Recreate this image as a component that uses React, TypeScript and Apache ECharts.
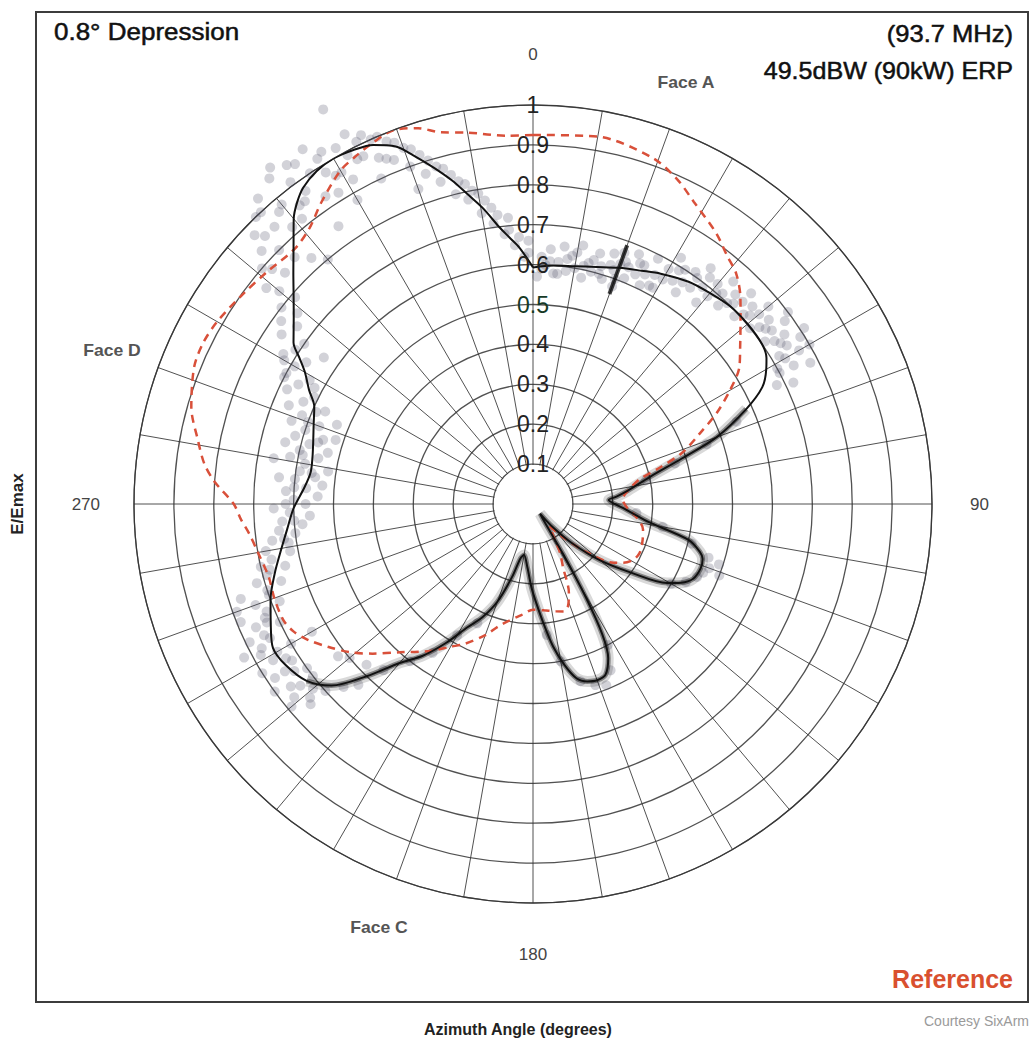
import React, { useEffect, useRef } from "react";
import * as echarts from "echarts";

// [azimuth (deg), E/Emax]
const measured: [number, number][] = [
  [0, 0.593], [5, 0.6], [10, 0.605], [15, 0.615], [20, 0.63], [25, 0.645], [29, 0.66], [35, 0.68],
  [40, 0.69], [45, 0.7], [50, 0.702], [55, 0.7], [58, 0.69], [60, 0.675], [63, 0.645], [66, 0.585],
  [70, 0.49], [73, 0.39], [77, 0.3], [82, 0.24], [85, 0.21], [87, 0.19], [90, 0.205], [93, 0.23],
  [99, 0.296], [103, 0.4], [106, 0.435], [108, 0.447], [111, 0.45], [115, 0.443], [118, 0.42],
  [120.5, 0.39], [125, 0.3], [130, 0.22], [135, 0.14], [140, 0.07], [144, 0.03], [147, 0.05],
  [149, 0.15], [150.5, 0.27], [152, 0.37], [154, 0.43], [157, 0.465], [160, 0.47], [163, 0.465],
  [166, 0.45], [169, 0.41], [172, 0.36], [175, 0.3], [178, 0.25], [181, 0.21], [185, 0.16],
  [190, 0.13], [193, 0.14], [196, 0.19], [200, 0.26], [204, 0.31], [208, 0.35], [212, 0.41],
  [216, 0.47], [220, 0.52], [224, 0.6], [228, 0.68], [232, 0.72], [237, 0.74], [241, 0.745],
  [245, 0.725], [250, 0.7], [255, 0.67], [260, 0.64], [264, 0.62], [269, 0.6], [274, 0.575],
  [278, 0.563], [282, 0.565], [286, 0.573], [290, 0.585], [294, 0.6], [297, 0.63], [300, 0.66],
  [302, 0.69], [304, 0.724], [308, 0.761], [311, 0.795], [314, 0.835], [317, 0.88], [320, 0.933],
  [322, 0.96], [324, 0.98], [327, 0.995], [330, 1.0], [333, 0.995], [336, 0.985], [339, 0.96],
  [341, 0.925], [343.5, 0.88], [346, 0.835], [348, 0.795], [350.5, 0.75], [353, 0.7], [355, 0.67],
  [357, 0.643], [360, 0.593],
];

const reference: [number, number][] = [
  [0, 0.925], [10, 0.935], [19, 0.918], [24, 0.89], [28, 0.858], [34, 0.82], [38, 0.79],
  [41.4, 0.77], [45, 0.735], [48, 0.7], [53, 0.65], [56.5, 0.62], [60, 0.57], [63.7, 0.513],
  [67, 0.455], [71, 0.396], [74, 0.33], [77, 0.274], [82, 0.24], [87, 0.225], [92, 0.235],
  [97, 0.26], [103, 0.283], [109, 0.29], [114.6, 0.294], [119, 0.288], [123, 0.27], [126, 0.25],
  [132, 0.18], [138, 0.11], [143, 0.07], [147, 0.09], [151, 0.14], [154.5, 0.174], [158, 0.24],
  [161, 0.27], [164, 0.28], [168, 0.275], [174, 0.268], [180, 0.265], [186, 0.28], [192, 0.3],
  [196, 0.32], [200, 0.35], [206, 0.39], [210, 0.413], [215, 0.45], [222, 0.5], [227, 0.55],
  [231, 0.59], [235, 0.625], [239, 0.66], [242, 0.68], [245, 0.69], [250, 0.69], [254.5, 0.687],
  [260, 0.7], [264, 0.715], [267, 0.733], [270, 0.75], [274, 0.8], [277, 0.83], [280.8, 0.855],
  [285.8, 0.89], [292, 0.916], [296, 0.92], [300, 0.914], [306, 0.897], [311, 0.885], [317, 0.875],
  [321, 0.89], [325, 0.924], [330, 0.965], [333.4, 0.98], [336, 0.99], [339.5, 1.0], [343, 0.985],
  [346, 0.96], [350, 0.945], [356, 0.925], [360, 0.925],
];

const spike: [number, number][] = [[20, 0.56], [20, 0.69]];

const samples: [number, number][] = [
  // top-left
  [312, 0.88], [313, 0.93], [314, 0.97], [315, 0.9], [316, 1.0], [317, 0.95], [318, 1.03], [319, 0.92],
  [320, 0.98], [321, 1.05], [322, 1.07], [322, 0.95], [323, 1.01], [324, 0.97], [325, 1.04], [326, 1.0],
  [327, 1.06], [328, 0.98], [329, 1.03], [330, 0.96], [331, 1.02], [332, 1.12], [332, 0.99], [333, 1.04],
  [334, 0.97], [335, 1.02], [336, 0.95], [337, 1.0], [338, 0.93], [339, 0.97], [340, 0.9], [341, 0.94],
  [342, 0.87], [343, 0.9], [344, 0.84], [345, 0.87], [346, 0.8], [347, 0.83], [348, 0.78], [349, 0.8],
  [350, 0.74], [351, 0.77], [352, 0.71], [354, 0.68], [355, 0.72], [356, 0.65], [358, 0.62], [359, 0.66],
  [325, 0.85], [330, 0.88], [335, 0.9], [320, 0.8], [318, 0.83], [328, 0.92], [340, 0.84], [316, 0.86],
  [309, 0.86], [311, 0.9], [313, 0.85], [315, 0.95], [317, 1.0], [319, 0.97], [321, 0.92], [323, 0.95],
  [324, 1.05], [326, 0.93], [328, 1.02], [329, 0.96], [331, 0.93], [333, 0.97], [334, 1.01], [336, 1.0],
  [337, 0.94], [338, 0.98], [340, 0.95], [342, 0.92], [344, 0.88], [346, 0.85], [348, 0.82], [350, 0.79],
  [352, 0.75], [353, 0.73], [355, 0.69], [357, 0.67], [359, 0.63], [305, 0.64], [300, 0.72], [297, 0.7],
  // 0 - 65
  [1, 0.57], [2, 0.62], [3, 0.6], [4, 0.64], [5, 0.58], [6, 0.61], [7, 0.65], [8, 0.59], [9, 0.63],
  [10, 0.6], [11, 0.66], [12, 0.58], [13, 0.62], [14, 0.6], [15, 0.65], [16, 0.62], [17, 0.59],
  [18, 0.66], [19, 0.62], [20, 0.6], [20, 0.64], [20, 0.67], [20, 0.58], [21, 0.65], [22, 0.61],
  [23, 0.68], [24, 0.63], [25, 0.66], [26, 0.61], [27, 0.69], [28, 0.65], [29, 0.62], [30, 0.68],
  [31, 0.72], [32, 0.66], [33, 0.7], [34, 0.64], [35, 0.71], [36, 0.67], [37, 0.74], [38, 0.69],
  [39, 0.65], [40, 0.72], [41, 0.7], [42, 0.75], [43, 0.68], [44, 0.73], [45, 0.71], [46, 0.76],
  [47, 0.69], [48, 0.74], [49, 0.72], [50, 0.77], [51, 0.7], [52, 0.75], [53, 0.73], [54, 0.78],
  [55, 0.71], [56, 0.76], [57, 0.74], [58, 0.79], [59, 0.72], [60, 0.77], [61, 0.7], [62, 0.74],
  [63, 0.78], [64, 0.68], [65, 0.72],
  [2, 0.59], [4, 0.61], [6, 0.58], [8, 0.62], [10, 0.64], [12, 0.61], [14, 0.63], [16, 0.6], [18, 0.63],
  [22, 0.64], [24, 0.66], [26, 0.64], [28, 0.62], [30, 0.65], [32, 0.69], [34, 0.67], [36, 0.7],
  [38, 0.72], [40, 0.68], [42, 0.71], [44, 0.7], [46, 0.73], [48, 0.71], [50, 0.74], [52, 0.72],
  [54, 0.74], [56, 0.73], [58, 0.75], [60, 0.73], [62, 0.7], [57, 0.81], [60, 0.8], [53, 0.8],
  // right lobe
  [68, 0.55], [71, 0.46], [74, 0.37], [78, 0.29], [95, 0.26], [100, 0.33], [104, 0.41], [107, 0.46],
  [110, 0.47], [112, 0.46], [114, 0.45], [117, 0.43], [120, 0.4], [108, 0.49], [111, 0.5],
  // lower lobe
  [152, 0.4], [155, 0.46], [158, 0.49], [161, 0.48], [165, 0.46], [170, 0.4], [174, 0.33],
  // bottom-left
  [205, 0.33], [210, 0.38], [214, 0.45], [218, 0.5], [222, 0.56], [224, 0.63], [226, 0.66],
  [228, 0.7], [229, 0.74], [230, 0.72], [231, 0.77], [232, 0.7], [233, 0.76], [234, 0.8], [235, 0.73],
  [236, 0.78], [237, 0.72], [238, 0.8], [239, 0.76], [240, 0.7], [241, 0.78], [242, 0.82], [243, 0.74],
  [244, 0.79], [245, 0.7], [246, 0.76], [247, 0.73], [248, 0.79], [249, 0.68], [250, 0.74],
  [251, 0.7], [252, 0.77], [253, 0.66], [254, 0.72], [255, 0.69], [256, 0.64], [257, 0.7],
  [258, 0.67], [259, 0.62], [260, 0.68], [226, 0.58], [232, 0.62], [240, 0.64], [230, 0.6],
  [228, 0.75], [232, 0.74], [236, 0.75], [240, 0.74], [244, 0.75], [248, 0.72], [252, 0.7],
  [256, 0.68], [234, 0.7], [238, 0.73], [242, 0.77], [246, 0.73], [250, 0.79], [230, 0.79],
  // Face D side
  [261, 0.62], [262, 0.66], [263, 0.6], [264, 0.64], [265, 0.58], [266, 0.63], [267, 0.56],
  [268, 0.61], [269, 0.65], [270, 0.57], [271, 0.6], [272, 0.54], [273, 0.62], [274, 0.57],
  [275, 0.53], [276, 0.6], [277, 0.55], [278, 0.59], [279, 0.52], [280, 0.58], [281, 0.62],
  [282, 0.55], [283, 0.6], [284, 0.53], [285, 0.58], [286, 0.62], [287, 0.55], [288, 0.6],
  [289, 0.64], [290, 0.57], [291, 0.62], [292, 0.66], [293, 0.59], [294, 0.63], [295, 0.68],
  [296, 0.61], [297, 0.66], [298, 0.7], [299, 0.64], [300, 0.69], [301, 0.73], [302, 0.67],
  [303, 0.71], [304, 0.76], [305, 0.7], [306, 0.78], [307, 0.74], [308, 0.8], [309, 0.76],
  [310, 0.83], [311, 0.79],
  [262, 0.63], [266, 0.6], [270, 0.62], [274, 0.6], [278, 0.56], [282, 0.59], [286, 0.56],
  [290, 0.6], [294, 0.57], [298, 0.62], [288, 0.52], [284, 0.64], [276, 0.64], [280, 0.66], [292, 0.53],
];

const angleTickLabels = [0, 90, 180, 270];
const radiusTickLabels = ["0.1", "0.2", "0.3", "0.4", "0.5", "0.6", "0.7", "0.8", "0.9", "1"];

const FONT = "'Liberation Sans', Arial, Helvetica, sans-serif";

export default function App() {
  const ref = useRef<HTMLDivElement>(null);
  useEffect(() => {
    document.body.style.margin = "0";
    const chart = echarts.init(ref.current!, null, { renderer: "svg" });
    const toPolar = (arr: [number, number][]) => arr.map(([a, r]) => [r, a]);
    const halo = measured.filter(([a]) => a >= 64 && a <= 232);
    const gridColor = "rgba(50,50,50,0.85)";
    const headStyle = (text: string, align: string) => ({
      text,
      font: `23px ${FONT}`,
      fill: "#111",
      stroke: "#111",
      lineWidth: 0.5,
      textAlign: align,
      textVerticalAlign: "middle",
    });
    const smallBold = (text: string) => ({
      text,
      font: `bold 16px ${FONT}`,
      fill: "#555",
      textAlign: "center",
      textVerticalAlign: "middle",
    });
    const option: any = {
      animation: false,
      backgroundColor: "#ffffff",
      textStyle: { fontFamily: FONT },
      polar: [
        { center: [533, 504], radius: 399 },
        { center: [533, 504], radius: 399 },
      ],
      angleAxis: [
        {
          polarIndex: 0,
          type: "value",
          min: 0,
          max: 360,
          interval: 10,
          startAngle: 90,
          clockwise: true,
          axisLine: { show: true, lineStyle: { color: gridColor, width: 1.2 } },
          axisTick: { show: false },
          splitLine: { show: true, lineStyle: { color: gridColor, width: 1 } },
          axisLabel: {
            show: true,
            margin: 34,
            fontSize: 17,
            color: "#444",
            fontFamily: FONT,
            formatter: (v: number) => {
              if (!angleTickLabels.includes(v)) return "";
              return "{a" + v + "|" + v + "}";
            },
            rich: {
              a0: { fontSize: 17, color: "#444", padding: [0, 0, 8, 0] },
              a90: { fontSize: 17, color: "#444", padding: [0, 0, 0, 4] },
              a180: { fontSize: 17, color: "#444", padding: [9, 0, 0, 0] },
              a270: { fontSize: 17, color: "#444", padding: [0, 0, 0, 0] },
            },
          },
        },
        {
          polarIndex: 1,
          type: "value",
          min: 0,
          max: 360,
          startAngle: 90,
          show: false,
        },
      ],
      radiusAxis: [
        {
          polarIndex: 0,
          type: "value",
          min: 0,
          max: 1,
          interval: 0.1,
          axisLine: { show: false },
          axisTick: { show: false },
          axisLabel: { show: false },
          splitLine: { show: true, lineStyle: { color: gridColor, width: 1.3 } },
        },
        {
          polarIndex: 1,
          type: "value",
          min: 0,
          max: 1,
          interval: 0.1,
          z: 4,
          axisLine: { show: false },
          axisTick: { show: false },
          splitLine: { show: false },
          axisLabel: {
            show: true,
            margin: 0,
            align: "center",
            verticalAlign: "middle",
            fontSize: 23,
            color: "#222",
            fontFamily: FONT,
            formatter: (v: number) => {
              const i = Math.round(v * 10);
              if (i < 1 || i > 10) return "";
              const s = radiusTickLabels[i - 1];
              return i === 5 ? "{g|" + s + "}" : s;
            },
            rich: { g: { color: "#153a26", fontSize: 23, fontFamily: FONT } },
          },
        },
      ],
      graphic: [
        {
          type: "rect",
          shape: { x: 36, y: 12, width: 992, height: 990 },
          style: { fill: "none", stroke: "#3c3c3c", lineWidth: 2 },
          z: 0,
        },
        {
          type: "circle",
          shape: { cx: 533, cy: 504, r: 39 },
          style: { fill: "#ffffff", stroke: "none" },
          z: 1,
        },
        { type: "text", x: 54, y: 32, scaleX: 1.13, style: headStyle("0.8° Depression", "left"), z: 5 },
        { type: "text", x: 1013, y: 34, scaleX: 1.11, style: headStyle("(93.7 MHz)", "right"), z: 5 },
        { type: "text", x: 1013, y: 71, scaleX: 1.09, style: headStyle("49.5dBW (90kW) ERP", "right"), z: 5 },
        { type: "text", x: 686, y: 83, scaleX: 1.1, style: smallBold("Face A"), z: 5 },
        { type: "text", x: 112, y: 351, scaleX: 1.1, style: smallBold("Face D"), z: 5 },
        { type: "text", x: 379, y: 928, scaleX: 1.1, style: smallBold("Face C"), z: 5 },
        { type: "text", x: 1013, y: 979, style: { text: "Reference", font: `bold 25px ${FONT}`, fill: "#d9502f", textAlign: "right", textVerticalAlign: "middle" }, z: 5 },
        { type: "text", x: 518, y: 1029, style: { text: "Azimuth Angle (degrees)", font: `bold 16px ${FONT}`, fill: "#222", textAlign: "center", textVerticalAlign: "middle" }, z: 5 },
        { type: "text", x: 924, y: 1021, style: { text: "Courtesy SixArm", font: `14px ${FONT}`, fill: "#9a9a9a", textVerticalAlign: "middle" }, z: 5 },
        { type: "text", x: 17, y: 504, rotation: Math.PI / 2, style: { text: "E/Emax", font: `bold 17px ${FONT}`, fill: "#222", textAlign: "center", textVerticalAlign: "middle" }, z: 5 },
      ],
      series: [
        {
          type: "scatter",
          coordinateSystem: "polar",
          polarIndex: 0,
          data: toPolar(samples),
          symbol: "circle",
          symbolSize: 10,
          clip: false,
          itemStyle: { color: "rgba(85,85,105,0.33)" },
          silent: true,
          z: 2,
        },
        {
          type: "line",
          coordinateSystem: "polar",
          polarIndex: 0,
          data: toPolar(halo),
          smooth: 0.3,
          showSymbol: false,
          clip: false,
          lineStyle: { color: "rgba(0,0,0,0.15)", width: 11 },
          z: 3,
        },
        {
          type: "line",
          coordinateSystem: "polar",
          polarIndex: 0,
          data: toPolar(halo),
          smooth: 0.3,
          showSymbol: false,
          clip: false,
          lineStyle: { color: "rgba(0,0,0,0.4)", width: 5 },
          z: 3,
        },
        {
          type: "line",
          coordinateSystem: "polar",
          polarIndex: 0,
          data: toPolar(spike),
          showSymbol: false,
          clip: false,
          lineStyle: { color: "rgba(0,0,0,0.75)", width: 4 },
          z: 3,
        },
        {
          type: "line",
          coordinateSystem: "polar",
          polarIndex: 0,
          data: toPolar(reference),
          smooth: 0.3,
          showSymbol: false,
          clip: false,
          lineStyle: { color: "#d9503a", width: 2.5, type: [8, 6] },
          z: 3,
        },
        {
          type: "line",
          coordinateSystem: "polar",
          polarIndex: 0,
          data: toPolar(measured),
          smooth: 0.3,
          showSymbol: false,
          clip: false,
          lineStyle: { color: "#111", width: 2 },
          z: 3,
        },
      ],
    };
    chart.setOption(option);
    return () => chart.dispose();
  }, []);
  return <div ref={ref} style={{ width: 1030, height: 1042 }} />;
}
